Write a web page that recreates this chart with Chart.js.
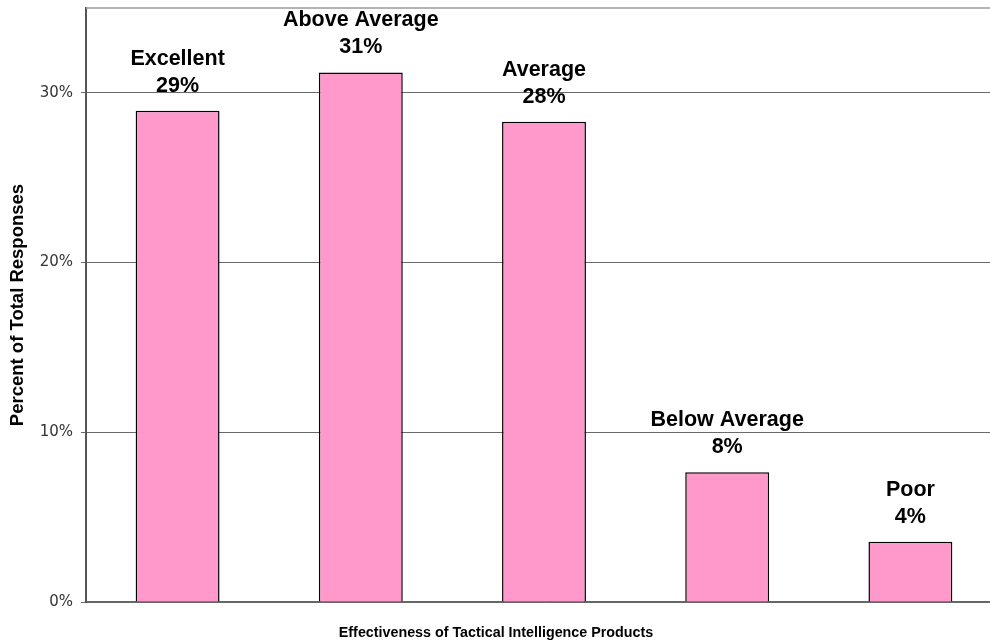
<!DOCTYPE html>
<html lang="en">
<head>
    <meta charset="UTF-8">
    <title>Effectiveness of Tactical Intelligence Products</title>
    <style>
        body {
            margin: 0;
            padding: 0;
            background: #ffffff;
            overflow: hidden;
        }

        .chart-wrap {
            width: 990px;
            height: 643px;
            overflow: hidden;
        }

        .chart-box {
            width: 1012px;
            height: 643px;
        }
    </style>
    <script src="https://cdn.jsdelivr.net/npm/chart.js"></script>
</head>
<body>
    <div class="chart-wrap">
        <div class="chart-box">
            <canvas id="chartCanvas"></canvas>
        </div>
    </div>

    <script>
        const categories = ['Excellent', 'Above Average', 'Average', 'Below Average', 'Poor'];
        const responses = [28.95, 31.2, 28.3, 7.65, 3.55];
        const tickValues = [0, 10, 20, 30];

        const labelFont = 'bold 21.5px "Liberation Sans", Arial, sans-serif';

        // two-line label above each bar: name, then rounded percent
        const barLabels = {
            id: 'barLabels',
            afterDatasetsDraw(chart) {
                const ctx = chart.ctx;
                const meta = chart.getDatasetMeta(0);
                ctx.save();
                ctx.font = labelFont;
                ctx.fillStyle = '#000';
                ctx.textAlign = 'center';
                ctx.textBaseline = 'alphabetic';
                meta.data.forEach((bar, i) => {
                    ctx.fillText(Math.round(responses[i]) + '%', bar.x, bar.y - 19);
                    ctx.fillText(categories[i], bar.x, bar.y - 46);
                });
                ctx.restore();
            }
        };

        // top frame line and the x axis title (centered on the visible page)
        const frameAndTitle = {
            id: 'frameAndTitle',
            afterDraw(chart) {
                const ctx = chart.ctx;
                const area = chart.chartArea;
                ctx.save();
                ctx.strokeStyle = '#9a9a9a';
                ctx.lineWidth = 1.5;
                ctx.beginPath();
                ctx.moveTo(area.left, area.top);
                ctx.lineTo(chart.width, area.top);
                ctx.stroke();

                ctx.font = 'bold 14.3px "Liberation Sans", Arial, sans-serif';
                ctx.fillStyle = '#000';
                ctx.textAlign = 'center';
                ctx.textBaseline = 'middle';
                ctx.fillText('Effectiveness of Tactical Intelligence Products', 496, area.bottom + 31);
                ctx.restore();
            }
        };

        new Chart(document.getElementById('chartCanvas'), {
            type: 'bar',
            data: {
                labels: categories,
                datasets: [{
                    data: responses,
                    backgroundColor: '#ff99cc',
                    borderColor: '#000000',
                    borderWidth: 1.5,
                    barPercentage: 0.458,
                    categoryPercentage: 1
                }]
            },
            options: {
                responsive: true,
                maintainAspectRatio: false,
                animation: false,
                layout: {
                    padding: { top: 0, right: 10, left: 0, bottom: 0 }
                },
                plugins: {
                    legend: { display: false },
                    tooltip: { enabled: false }
                },
                scales: {
                    x: {
                        ticks: { display: false },
                        grid: { display: false },
                        border: { display: true, color: '#666666', width: 1.5 },
                        afterFit(scale) { scale.height = 41; }
                    },
                    y: {
                        min: 0,
                        max: 35,
                        afterBuildTicks(scale) {
                            scale.ticks = tickValues.map(v => ({ value: v }));
                        },
                        ticks: {
                            callback: v => v + '%',
                            color: '#333333',
                            padding: 8,
                            font: { family: '"DejaVu Sans", Verdana, sans-serif', size: 15 }
                        },
                        grid: {
                            color: '#6a6a6a',
                            tickLength: 5,
                            drawTicks: true
                        },
                        border: { display: true, color: '#555555', width: 2 },
                        title: {
                            display: true,
                            text: 'Percent of Total Responses',
                            color: '#000',
                            padding: { top: 7, bottom: 0 },
                            font: { family: '"Liberation Sans", Arial, sans-serif', size: 18.5, weight: 'bold' }
                        },
                        afterFit(scale) {
                            scale.width = 86;
                            scale.paddingTop = 8;
                            scale.paddingBottom = 0;
                        }
                    }
                }
            },
            plugins: [barLabels, frameAndTitle]
        });
    </script>
</body>
</html>
